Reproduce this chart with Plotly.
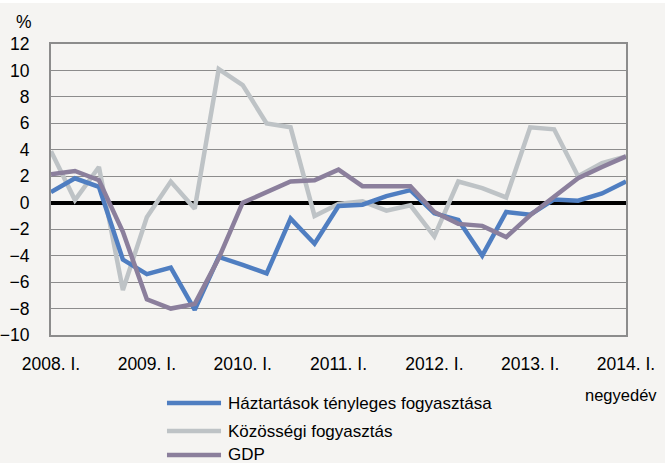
import plotly.graph_objects as go

# negyedévek 2008. I. - 2014. I.
quarters = [
    "2008. I.", "2008. II.", "2008. III.", "2008. IV.",
    "2009. I.", "2009. II.", "2009. III.", "2009. IV.",
    "2010. I.", "2010. II.", "2010. III.", "2010. IV.",
    "2011. I.", "2011. II.", "2011. III.", "2011. IV.",
    "2012. I.", "2012. II.", "2012. III.", "2012. IV.",
    "2013. I.", "2013. II.", "2013. III.", "2013. IV.",
    "2014. I.",
]
tick_labels = ["2008. I.", "2009. I.", "2010. I.", "2011. I.", "2012. I.", "2013. I.", "2014. I."]

haztartasok = [0.8, 1.85, 1.2, -4.3, -5.4, -4.9, -8.1, -4.1, -4.7, -5.35, -1.2, -3.1, -0.25,
               -0.15, 0.5, 0.95, -0.8, -1.3, -4.0, -0.7, -0.9, 0.25, 0.15, 0.7, 1.6]
kozossegi = [3.9, 0.2, 2.7, -6.6, -1.1, 1.6, -0.45, 10.1, 8.9, 6.0, 5.7, -1.0, -0.1,
             0.1, -0.6, -0.2, -2.55, 1.6, 1.1, 0.4, 5.7, 5.55, 2.0, 3.0, 3.5]
gdp = [2.15, 2.4, 1.7, -2.2, -7.3, -8.0, -7.65, -4.2, 0.0, 0.8, 1.6, 1.7, 2.5,
       1.25, 1.25, 1.25, -0.7, -1.6, -1.75, -2.6, -0.95, 0.4, 1.85, 2.7, 3.5]

series = [
    ("Háztartások tényleges fogyasztása", haztartasok, "#4f7ec1"),
    ("Közösségi fogyasztás", kozossegi, "#bec3c6"),
    ("GDP", gdp, "#8b7f9c"),
]

FONT = "Liberation Sans, Arial, sans-serif"
BG = "#f5f4f2"
GRID = "#8c8c8c"

fig = go.Figure()
# szürke alul, hogy a sorrend egyezzen
for name, values, color in [series[1], series[0], series[2]]:
    fig.add_trace(go.Scatter(
        x=quarters, y=values, mode="lines", name=name,
        line={"color": color, "width": 4.5},
        showlegend=False,
    ))

# kézi jelmagyarázat (hosszabb vonalminta, mint a plotly sajátja)
legend_rows = [-0.234, -0.330, -0.412]
shapes = [{
    "type": "rect", "xref": "paper", "yref": "paper",
    "x0": -0.1, "x1": 1.1, "y0": 1.141, "y1": 1.16,
    "fillcolor": "white", "line": {"width": 0}, "layer": "below",
}]
annotations = []
for (name, _, color), y in zip(series, legend_rows):
    shapes.append({
        "type": "line", "xref": "paper", "yref": "paper",
        "x0": 0.2017, "x1": 0.2957, "y0": y, "y1": y,
        "line": {"color": color, "width": 4.5},
    })
    annotations.append({
        "text": name, "xref": "paper", "yref": "paper",
        "x": 0.3043, "y": y, "xanchor": "left", "yanchor": "middle",
        "showarrow": False, "font": {"size": 17},
    })
annotations.append({
    "text": "%", "xref": "paper", "yref": "paper", "x": -0.047, "y": 1.0756,
    "xanchor": "center", "yanchor": "middle", "showarrow": False, "font": {"size": 17.5},
})
annotations.append({
    "text": "negyedév", "xref": "paper", "yref": "paper", "x": 0.925, "y": -0.206,
    "xanchor": "left", "yanchor": "middle", "showarrow": False, "font": {"size": 16.5},
})

fig.update_layout(
    width=665, height=463,
    margin={"l": 51, "r": 39, "t": 44, "b": 128},
    paper_bgcolor=BG, plot_bgcolor=BG,
    font={"family": FONT, "size": 17.5, "color": "black"},
    showlegend=False,
    shapes=shapes, annotations=annotations,
    xaxis={
        "type": "category", "range": [0, 24], "automargin": False,
        "tickvals": tick_labels, "ticktext": tick_labels,
        "showgrid": False, "showline": True, "linecolor": GRID, "linewidth": 2,
        "mirror": True, "ticks": "", "ticklabelstandoff": 12,
    },
    yaxis={
        "range": [-10, 12], "dtick": 2, "tick0": 0, "automargin": False,
        "showgrid": True, "gridcolor": GRID, "gridwidth": 1,
        "showline": True, "linecolor": GRID, "linewidth": 2, "mirror": True,
        "zeroline": True, "zerolinecolor": "black", "zerolinewidth": 3.5,
        "ticks": "", "ticklabelstandoff": 16,
    },
)

# a böngésző alapértelmezett 8px-es body margóját kivesszük
fig.write_html(
    "out.html",
    config={"displayModeBar": False},
    post_script="document.body.style.margin='0';",
)
